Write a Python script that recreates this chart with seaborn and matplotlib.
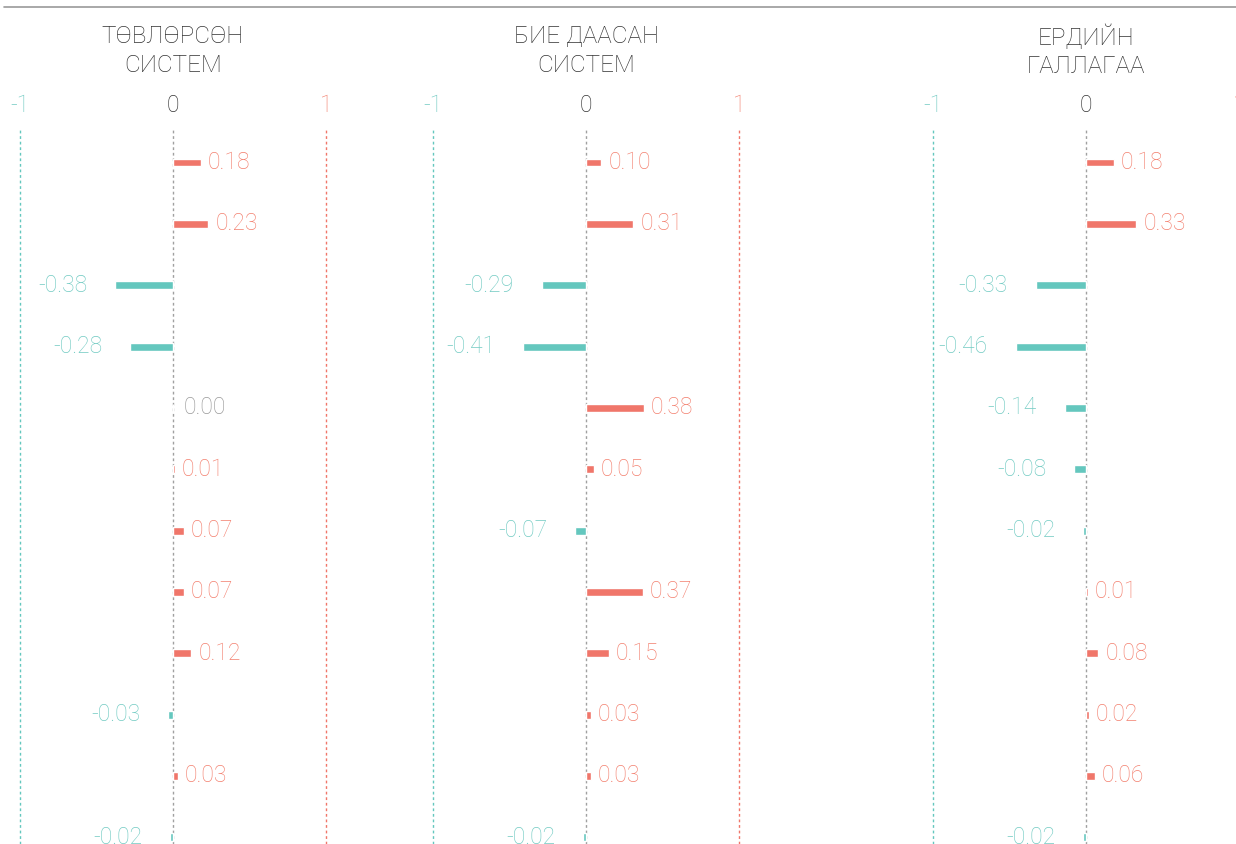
import numpy as np
import pandas as pd
import matplotlib.pyplot as plt
import matplotlib.transforms as mtransforms
from matplotlib.lines import Line2D
import seaborn as sns

# ── Data ────────────────────────────────────────────────────
titles = ['ТӨВЛӨРСӨН\nСИСТЕМ', 'БИЕ ДААСАН\nСИСТЕМ', 'ЕРДИЙН\nГАЛЛАГАА']
rows = ['r01', 'r02', 'r03', 'r04', 'r05', 'r06',
        'r07', 'r08', 'r09', 'r10', 'r11', 'r12']
centralized = [0.18, 0.23, -0.38, -0.28, 0.00, 0.01, 0.07, 0.07, 0.12, -0.03, 0.03, -0.02]
independent = [0.10, 0.31, -0.29, -0.41, 0.38, 0.05, -0.07, 0.37, 0.15, 0.03, 0.03, -0.02]
general     = [0.18, 0.33, -0.33, -0.46, -0.14, -0.08, -0.02, 0.01, 0.08, 0.02, 0.06, -0.02]
tick_vals   = [-1, 0, 1]
tick_labels = ['-1', '0', '1']

SALMON = '#F0766A'
TEAL = '#64C7BE'
SALMON_TXT = '#F3806F'
TEAL_TXT = '#72CBC3'
GRAY = '#999999'
DARK = '#333333'

sns.set_theme(style='white')
plt.rcParams['font.family'] = ['Roboto', 'DejaVu Sans']
plt.rcParams['font.weight'] = 'light'

W, H = 1236, 844
fig = plt.figure(figsize=(W / 100, H / 100), dpi=100)

zero_px = [173, 586, 1086]   # where 0 sits for each panel
unit_px = 153
half = 1.1
top_px = 130

for title, vals, zx in zip(titles, [centralized, independent, general], zero_px):
    ax = fig.add_axes([(zx - half * unit_px) / W, 0,
                       2 * half * unit_px / W, (H - top_px) / H])
    vals = np.array(vals)
    df = pd.DataFrame({'row': rows, 'value': vals,
                       'sign': np.where(vals > 0, 'pos', np.where(vals < 0, 'neg', 'zero'))})

    ax.axvline(-1, color=TEAL, ls=(0, (2, 2)), lw=1, zorder=0)
    ax.axvline(0, color='#A0A0A0', ls=(0, (2, 2)), lw=1, zorder=0)
    ax.axvline(1, color=SALMON, ls=(0, (2, 2)), lw=1, zorder=0)

    sns.barplot(data=df, x='value', y='row', hue='sign', orient='h',
                palette={'pos': SALMON, 'neg': TEAL, 'zero': GRAY},
                dodge=False, width=0.13, errorbar=None, legend=False,
                saturation=1, ax=ax)

    for i, v in enumerate(vals):
        if v > 0:
            ax.annotate(f'{v:.2f}', (v, i), xytext=(5, 0), textcoords='offset points',
                        ha='left', va='center', color=SALMON_TXT, fontsize=16.5)
        elif v < 0:
            ax.annotate(f'{v:.2f}', (v, i), xytext=(-20, 0), textcoords='offset points',
                        ha='right', va='center', color=TEAL_TXT, fontsize=16.5)
        else:
            ax.annotate(f'{v:.2f}', (v, i), xytext=(8, 0), textcoords='offset points',
                        ha='left', va='center', color=GRAY, fontsize=16.5)

    ax.set_xlim(-half, half)
    ax.set_ylim(11.11, -0.53)
    ax.xaxis.tick_top()
    ax.set_xticks(tick_vals)
    ax.set_xticklabels(tick_labels, fontsize=16.5)
    for lbl, c in zip(ax.get_xticklabels(), [TEAL_TXT, DARK, SALMON_TXT]):
        lbl.set_color(c)
    ax.tick_params(axis='x', length=0, pad=9)
    ax.set_yticks([])
    ax.set_xlabel('')
    ax.set_ylabel('')
    for s in ax.spines.values():
        s.set_visible(False)
    ax.patch.set_alpha(0)

    trans = mtransforms.blended_transform_factory(ax.transData, fig.transFigure)
    ax.text(0, 1 - 51 / H, title, transform=trans, ha='center', va='center',
            fontsize=17.5, color=DARK, linespacing=1.3)

fig.add_artist(Line2D([0.003, 1], [1 - 7 / H] * 2, transform=fig.transFigure,
                      color='#9A9A9A', lw=1.2))

plt.savefig('out.png', dpi=100)
